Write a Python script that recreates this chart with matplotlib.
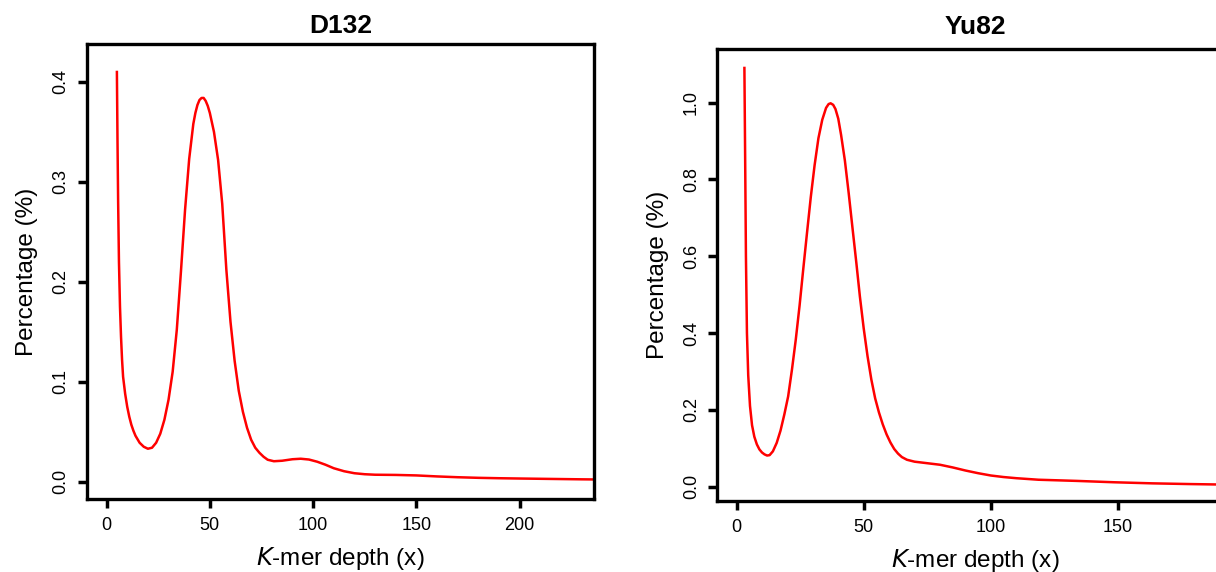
import matplotlib.pyplot as plt

plt.rcParams['font.family'] = ['Liberation Sans', 'DejaVu Sans']

# D132 k-mer depth distribution
d132_depth = [5, 5.3, 5.6, 6, 6.5, 7, 7.5, 8, 9, 10, 11, 12, 13, 14, 16, 18, 20, 22,
              24, 26, 28, 30, 32, 34, 36, 38, 40, 42, 43, 44, 45, 46, 47, 48, 49,
              50, 52, 54, 56, 58, 60, 62, 64, 66, 68, 70, 72, 74, 76, 78, 81, 85,
              90, 94, 98, 102, 106, 110, 115, 120, 125, 130, 140, 150, 160, 170,
              180, 190, 200, 215, 230, 240]
d132_pct = [0.41, 0.34, 0.28, 0.22, 0.175, 0.145, 0.122, 0.105, 0.088, 0.075, 0.065,
            0.057, 0.051, 0.046, 0.039, 0.035, 0.033, 0.034, 0.039, 0.048, 0.062,
            0.082, 0.110, 0.152, 0.210, 0.272, 0.323, 0.358, 0.369, 0.377, 0.382,
            0.384, 0.384, 0.381, 0.376, 0.369, 0.350, 0.322, 0.278, 0.212, 0.160,
            0.121, 0.091, 0.070, 0.054, 0.042, 0.034, 0.029, 0.025, 0.022, 0.0205,
            0.021, 0.0225, 0.023, 0.0222, 0.020, 0.017, 0.0135, 0.0105, 0.0085,
            0.0075, 0.0070, 0.0068, 0.0063, 0.0053, 0.0045, 0.0039, 0.0035,
            0.0032, 0.0028, 0.0024, 0.0022]

# Yu82 k-mer depth distribution
yu82_depth = [3.1, 3.4, 3.7, 4.1, 4.6, 5.3, 6.1, 7, 8, 9, 10, 11, 12, 13, 14.3,
              15.8, 17.3, 18.8, 20.3, 21.8, 23.3, 24.8, 26.2, 27.7, 29.2, 30.7,
              32.2, 33.7, 35.2, 36.2, 37, 38, 38.9, 40, 41.1, 42.6, 44.1, 45.6,
              47.1, 48.5, 50, 51.5, 53, 54.5, 56, 57.5, 59, 60.5, 62, 63.5, 65,
              67, 70, 75, 80, 85, 90, 95, 100, 105, 110, 118.7, 133.6, 148.5,
              163.4, 178.4, 188.5, 200]
yu82_pct = [1.09, 0.85, 0.60, 0.40, 0.29, 0.21, 0.16, 0.13, 0.11, 0.097, 0.089,
            0.084, 0.081, 0.082, 0.092, 0.114, 0.146, 0.188, 0.235, 0.305, 0.383,
            0.472, 0.564, 0.660, 0.754, 0.837, 0.907, 0.955, 0.986, 0.996, 0.998,
            0.994, 0.983, 0.958, 0.916, 0.849, 0.764, 0.673, 0.583, 0.495, 0.412,
            0.340, 0.279, 0.230, 0.193, 0.162, 0.136, 0.115, 0.098, 0.086, 0.077,
            0.070, 0.065, 0.061, 0.057, 0.050, 0.042, 0.035, 0.029, 0.025, 0.022,
            0.018, 0.015, 0.0114, 0.0086, 0.0067, 0.0057, 0.0050]

fig = plt.figure(figsize=(12.16, 5.72), dpi=100)

panels = [
    # title, x, y, axes rect, xlim, ylim, xticks, yticks, title pad
    ("D132", d132_depth, d132_pct, [0.0715, 0.1276, 0.417, 0.7955],
     (-9.5, 236), (-0.0173, 0.438), [0, 50, 100, 150, 200],
     [0.0, 0.1, 0.2, 0.3, 0.4], 7.6),
    ("Yu82", yu82_depth, yu82_pct, [0.590, 0.1241, 0.4236, 0.790],
     (-7.5, 195), (-0.0374, 1.139), [0, 50, 100, 150],
     [0.0, 0.2, 0.4, 0.6, 0.8, 1.0], 11.2),
]

for title, xs, ys, rect, xlim, ylim, xt, yt, tpad in panels:
    ax = fig.add_axes(rect)
    ax.plot(xs, ys, color='#ff0000', lw=1.8, solid_joinstyle='round')
    ax.set_xlim(*xlim)
    ax.set_ylim(*ylim)
    ax.set_xticks(xt)
    ax.set_yticks(yt)
    ax.set_yticklabels([f'{v:.1f}' for v in yt])
    for s in ax.spines.values():
        s.set_linewidth(2.4)
    ax.tick_params(direction='out', length=6.7, width=2.5, labelsize=13, pad=6)
    ax.tick_params(axis='y', labelrotation=90)
    for lab in ax.get_yticklabels():
        lab.set_va('center')
    ax.set_xlabel('$\\it{K}$-mer depth (x)', fontsize=17.5, labelpad=8)
    ax.set_ylabel('Percentage (%)', fontsize=17.5, labelpad=10)
    ax.set_title(title, fontsize=19, fontweight='bold', pad=tpad)

plt.savefig('out.png', dpi=100)
